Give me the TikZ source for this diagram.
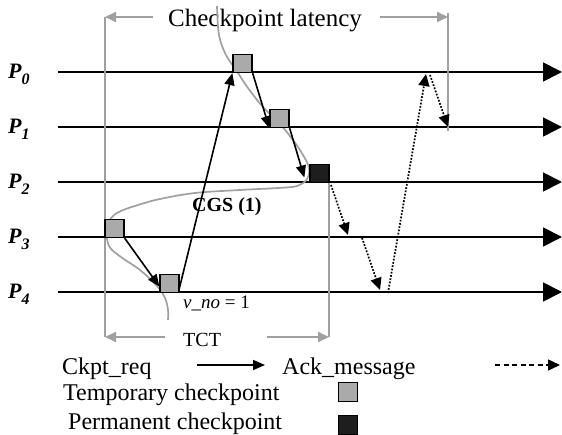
\documentclass[tikz,border=0pt]{standalone}
\usepackage{fontspec}
\setmainfont{Liberation Serif}
\usetikzlibrary{arrows.meta}

\definecolor{linegray}{RGB}{160,160,160}
\definecolor{ckgray}{RGB}{170,170,170}
\definecolor{ckdark}{RGB}{30,30,30}

\begin{document}
\begin{tikzpicture}[x=1pt,y=-1pt,
  procline/.style={line width=1.8pt, -{Triangle[length=19pt,width=19pt]}},
  tempck/.style={draw=black, line width=1.3pt, fill=ckgray, minimum width=19pt, minimum height=18pt, inner sep=0pt},
  permck/.style={tempck, fill=ckdark},
  reqmsg/.style={line width=1.6pt, -{Triangle[length=12pt,width=10pt]}},
  ackmsg/.style={line width=1.7pt, dash pattern=on 1.7pt off 1.6pt, -{Triangle[length=12pt,width=11pt]}},
  legack/.style={line width=1.5pt, dash pattern=on 5pt off 3.5pt, -{Triangle[length=12pt,width=11pt]}},
  latency/.style={draw=linegray, line width=1.8pt},
  latarrow/.style={latency, -{Triangle[length=11pt,width=10pt]}},
  proclabel/.style={anchor=base west, inner sep=0pt, font=\fontsize{22}{26}\selectfont\bfseries\itshape},
  bigtext/.style={anchor=base west, inner sep=0pt, font=\fontsize{24}{28}\selectfont},
  midtext/.style={anchor=base west, inner sep=0pt, font=\fontsize{20}{24}\selectfont}
]
\useasboundingbox (0,0) rectangle (562,435);

% process time lines
\foreach \i/\y in {0/72,1/127,2/182,3/237,4/292}{
  \coordinate (s\i) at (58,\y);
  \coordinate (e\i) at (562,\y);
  \draw[procline] (s\i) -- (e\i);
  \node[proclabel] (p\i) at (8,\y+7) {P\raisebox{-6pt}{\fontsize{16}{18}\selectfont\bfseries\itshape \i}};
}

% checkpoint latency and TCT brackets
\coordinate (lt) at (105,17);
\coordinate (lb) at (105,337);
\coordinate (ltl) at (153,17);
\coordinate (rtl) at (380,17);
\coordinate (rt) at (448,17);
\coordinate (rtop) at (448,13);
\coordinate (rbot) at (448,131);
\coordinate (lbl) at (165,337);
\coordinate (rbl) at (267,337);
\coordinate (rb) at (329,337);
\coordinate (rbtop) at (329,183);
\draw[latency] (lt) -- (lb);
\draw[latency] (rtop) -- (rbot);
\draw[latency] (rb) -- (rbtop);
\draw[latarrow] (ltl) -- (lt);
\draw[latarrow] (rtl) -- (rt);
\draw[latarrow] (lbl) -- (lb);
\draw[latarrow] (rbl) -- (rb);
\node[bigtext, font=\fontsize{25}{29}\selectfont] (lattext) at (168,27) {Checkpoint latency};
\node[midtext] (tct) at (183,347) {TCT};

% recovery line through the checkpoints
\draw[draw=linegray, line width=1.7pt] plot[smooth, tension=0.6] coordinates {
  (217,6) (219,35) (226,55) (236,70) (248,88) (263,107) (280,124) (293,140)
  (303,155) (309,168) (307,179) (297,186) (278,188) (240,190) (195,193)
  (160,199) (138,205) (121,211) (111,218) (107,230) (109,246) (121,257)
  (140,270) (157,286) (165,298) (168,310) (168,320)};

% checkpoints
\node[tempck] (ck0) at (242.5,63.5) {};
\node[tempck] (ck1) at (279.5,118.5) {};
\node[permck] (ck2) at (319.5,173.5) {};
\node[tempck] (ck3) at (114.5,228.5) {};
\node[tempck] (ck4) at (169.5,283.5) {};

% checkpoint requests
\draw[reqmsg] (ck3.south east) -- ([yshift=-3pt]ck4.west);
\draw[reqmsg] ([xshift=-1pt,yshift=2pt]ck4.south east) -- (ck0.south west);
\draw[reqmsg] (ck0.south east) -- (ck1.south west);
\draw[reqmsg] (ck1.south east) -- ([xshift=-5pt,yshift=-4pt]ck2.west);

% acknowledgements
\coordinate (a2) at (331,185);
\coordinate (a3) at (348,235);
\coordinate (b3) at (362,238);
\coordinate (a4) at (380,290);
\coordinate (b4) at (388,293);
\coordinate (a0) at (426,74);
\coordinate (b0) at (430,75);
\coordinate (a1) at (448,127);
\draw[ackmsg] (a2) -- (a3);
\draw[ackmsg] (b3) -- (a4);
\draw[ackmsg] (b4) -- (a0);
\draw[ackmsg] (b0) -- (a1);

\node[anchor=base west, inner sep=0pt, font=\fontsize{20}{24}\selectfont\bfseries] (cgs) at (192,212) {CGS (1)};
\node[anchor=base west, inner sep=0pt, font=\fontsize{19}{23}\selectfont] (vno) at (183,309) {\textit{v\_no} = 1};

% legend
\node[bigtext] (lreq) at (62,374) {Ckpt\_req};
\coordinate (lra) at (197,365);
\coordinate (lrb) at (265,365);
\draw[reqmsg] (lra) -- (lrb);
\node[bigtext] (lack) at (282,374) {Ack\_message};
\coordinate (laa) at (495,365);
\coordinate (lab) at (560,365);
\draw[legack] (laa) -- (lab);
\node[bigtext] (ltemp) at (63,400) {Temporary checkpoint};
\node[tempck, minimum width=19pt, minimum height=19pt] (legtemp) at (348,392) {};
\node[bigtext] (lperm) at (68,429) {Permanent checkpoint};
\node[permck, minimum width=19pt, minimum height=19pt] (legperm) at (348,425) {};
\end{tikzpicture}
\end{document}
